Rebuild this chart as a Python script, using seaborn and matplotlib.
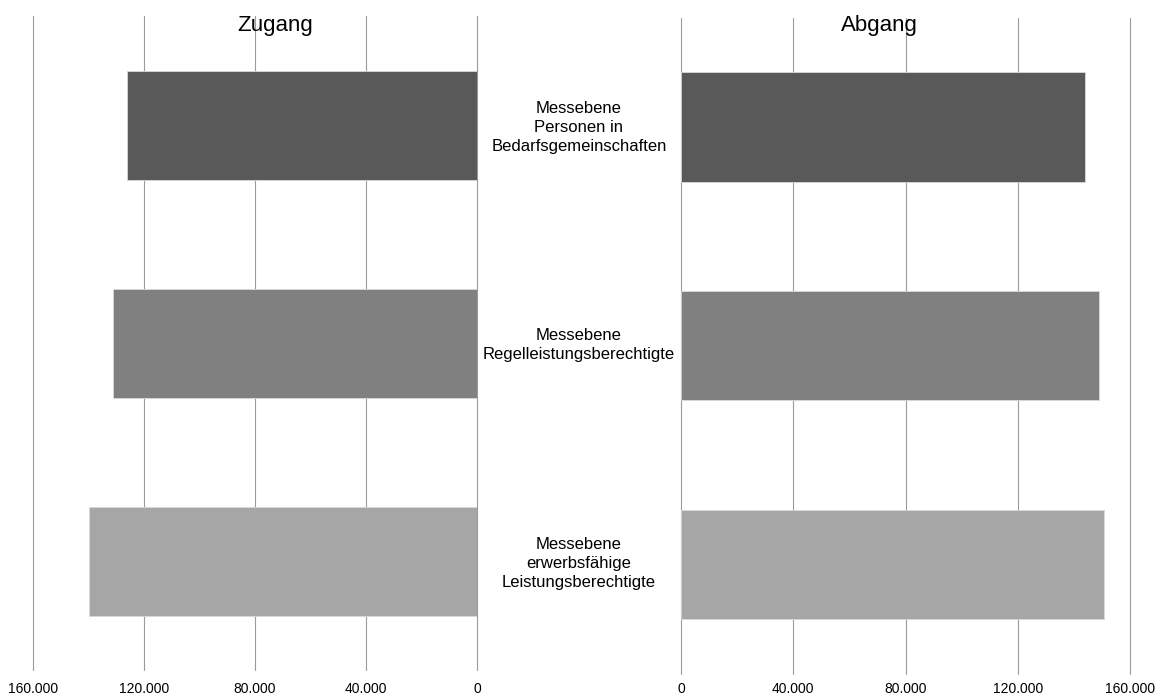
import matplotlib
matplotlib.use("Agg")
import matplotlib.pyplot as plt
import matplotlib.transforms as mtransforms
from matplotlib.ticker import FuncFormatter, FixedLocator
import seaborn as sns
import pandas as pd

# Data
categories = [
    "Messebene\nPersonen in\nBedarfsgemeinschaften",
    "Messebene\nRegelleistungsberechtigte",
    "Messebene\nerwerbsfähige\nLeistungsberechtigte",
]
zugang = [126000, 131000, 139700]
abgang = [144000, 149000, 150700]
ticks = [0, 40000, 80000, 120000, 160000]
bar_colors = ["#595959", "#808080", "#a6a6a6"]

sns.set_theme(style="white")
plt.rcParams["font.family"] = ["Liberation Sans", "DejaVu Sans"]

W, H = 1163, 697
fig = plt.figure(figsize=(W / 100, H / 100), dpi=100)
fig.patch.set_facecolor("white")

ax_l = fig.add_axes([33 / W, (H - 670) / H, 444 / W, 654 / H])
ax_r = fig.add_axes([681 / W, (H - 673.5) / H, 449 / W, 656 / H])

df_l = pd.DataFrame({"cat": categories, "val": zugang})
df_r = pd.DataFrame({"cat": categories, "val": abgang})

fmt = FuncFormatter(lambda v, p: f"{int(v):,}".replace(",", "."))

for ax, df, pad in ((ax_l, df_l, 8.5), (ax_r, df_r, 6.0)):
    sns.barplot(data=df, x="val", y="cat", hue="cat", palette=bar_colors,
                orient="h", width=0.5, legend=False, saturation=1, ax=ax,
                edgecolor="#d9d9d9", linewidth=0.6)
    ax.set_xlim(0, 160000)
    ax.xaxis.set_major_locator(FixedLocator(ticks))
    ax.xaxis.set_major_formatter(fmt)
    ax.set_axisbelow(True)
    ax.grid(axis="x", color="#9a9a9a", linewidth=0.8)
    ax.grid(axis="y", visible=False)
    for gl in ax.get_xgridlines():
        gl.set_clip_on(False)
    ax.set_yticks([])
    ax.set_xlabel("")
    ax.set_ylabel("")
    for s in ax.spines.values():
        s.set_visible(False)
    ax.tick_params(axis="x", length=0, pad=pad, labelsize=10, labelcolor="black")
    ax.set_facecolor("white")

ax_l.invert_xaxis()

# Panel titles
fig.text(275 / W, 1 - 25 / H, "Zugang", ha="center", va="center", fontsize=16, color="black")
fig.text(879 / W, 1 - 25 / H, "Abgang", ha="center", va="center", fontsize=16, color="black")

# Category labels between the two panels
trans = mtransforms.blended_transform_factory(fig.transFigure, ax_l.transData)
for i, cat in enumerate(categories):
    ax_l.text(579 / W, i + 0.01, cat, transform=trans, ha="center", va="center",
              fontsize=12, color="black", linespacing=1.32, multialignment="center")

fig.savefig("out.png", dpi=100, facecolor="white")
